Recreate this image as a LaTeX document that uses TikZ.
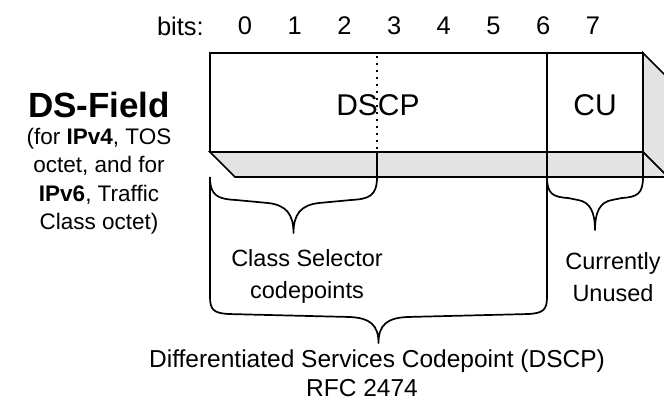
\documentclass[tikz,border=0pt]{standalone}
\usepackage{fontspec}
\setmainfont{Liberation Sans}
\usetikzlibrary{positioning}

\begin{document}
\begin{tikzpicture}[
  x=1pt, y=-1pt,
  lbl/.style={inner sep=0pt, align=center},
  bitnum/.style={lbl, font=\fontsize{25.5}{30}\selectfont},
  fieldname/.style={lbl, font=\fontsize{30}{36}\selectfont},
  note/.style={lbl, font=\fontsize{23.5}{32}\selectfont},
  edge/.style={line width=1.7pt, line join=miter},
  face/.style={edge, fill=gray!22},
  curly/.style={line width=1.7pt, line join=round}
]
\useasboundingbox (0,0) rectangle (664,410);
\clip (0,0) rectangle (664,410);

% bit numbers
\node[bitnum, anchor=east] (bits) at (204,26) {bits:};
\foreach \b in {0,...,7}
  \node[bitnum] (bit\b) at ({245+49.7*\b},26) {\b};

% the field, drawn as a flat box
\draw[face] (643,53) -- (668,78) -- (668,177) -- (643,152) -- cycle;
\draw[face] (210,152) -- (643,152) -- (668,177) -- (235,177) -- cycle;
\draw[edge] (210,53) rectangle (643,152);
\draw[edge] (547,53) -- (547,177);
\draw[edge] (643,152) -- (643,177);
\draw[edge] (377,152) -- (377,177);
\draw[line width=1.7pt, dash pattern=on 2pt off 5pt] (377,56) -- (377,152);

\node[fieldname] (dscp) at (378,105) {DSCP};
\node[fieldname] (cu) at (595,105) {CU};

% left caption
\node[lbl, font=\fontsize{35}{40}\selectfont\bfseries] (dsfield) at (99,105) {DS-Field};
\node[lbl, font=\fontsize{22.5}{28.5}\selectfont] (dsnote) at (99,181)
  {(for \textbf{IPv4}, TOS\\octet, and for\\\textbf{IPv6}, Traffic\\Class octet)};

% braces
\draw[curly] (210,177) .. controls (210,196) and (218,199) .. (236,200) -- (268,203)
  .. controls (286,205) and (293.5,214) .. (293.5,233)
  .. controls (293.5,214) and (301,205) .. (319,203) -- (351,200)
  .. controls (369,199) and (377,196) .. (377,177);
\draw[curly] (547,177) .. controls (547,194) and (553,197) .. (568,198) -- (578,200)
  .. controls (590,202) and (595,212) .. (595,230)
  .. controls (595,212) and (600,202) .. (612,200) -- (622,198)
  .. controls (637,197) and (643,194) .. (643,177);
\draw[curly] (210,177) -- (210,297) .. controls (210,310) and (214,313) .. (228,314) -- (350,317)
  .. controls (370,318) and (378.5,325) .. (378.5,343)
  .. controls (378.5,325) and (387,318) .. (407,317) -- (529,314)
  .. controls (543,313) and (547,310) .. (547,297) -- (547,177);

\node[note] (classsel) at (307,276) {Class Selector\\codepoints};
\node[note] (unused) at (613,277) {Currently\\Unused};

% bottom caption
\node[lbl, font=\fontsize{24.5}{28}\selectfont] (dscpname) at (377,361)
  {Differentiated Services Codepoint (DSCP)};
\node[lbl, font=\fontsize{24.5}{28}\selectfont, below=7pt of dscpname.south, anchor=north,
  xshift=-15pt] (rfc) {RFC 2474};
\end{tikzpicture}
\end{document}
